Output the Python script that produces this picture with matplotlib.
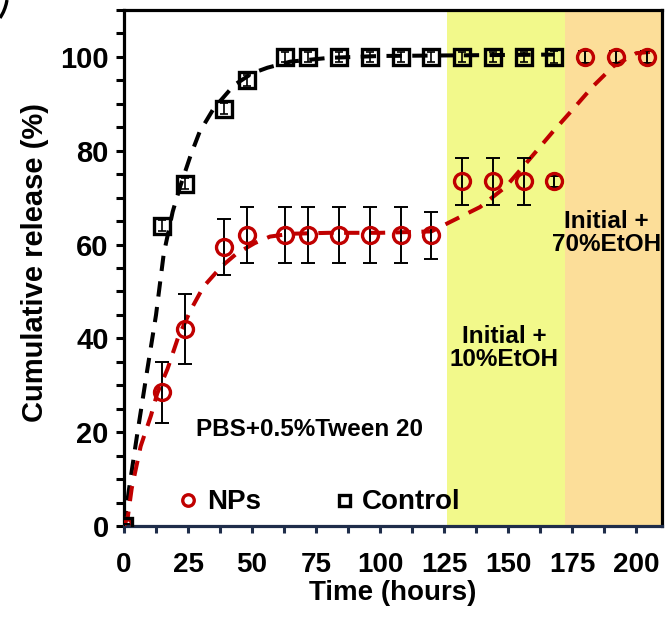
import matplotlib
matplotlib.use("Agg")
import matplotlib.pyplot as plt
from matplotlib.lines import Line2D
from matplotlib.ticker import MultipleLocator

plt.rcParams['font.family'] = ['Liberation Sans', 'DejaVu Sans']
plt.rcParams['font.weight'] = 'bold'

# Sampling times (hours)
t_control = [0, 15, 24, 39, 48, 63, 72, 84, 96, 108, 120, 132, 144, 156, 168]
control = [0, 64, 73, 89, 95, 100, 100, 100, 100, 100, 100, 100, 100, 100, 100]
control_err = [0.5, 1.2, 1.2, 1.2, 1.2, 1.0, 1.0, 1.0, 1.0, 1.0, 1.0, 1.0, 1.0, 1.0, 1.2]

t_nps = [0, 15, 24, 39, 48, 63, 72, 84, 96, 108, 120, 132, 144, 156, 168, 180, 192, 204]
nps = [0, 28.5, 42, 59.5, 62, 62, 62, 62, 62, 62, 62, 73.5, 73.5, 73.5, 73.5, 100, 100, 100]
nps_err = [0.5, 6.5, 7.5, 6, 6, 6, 6, 6, 6, 6, 5, 5, 5, 5, 1.2, 1.2, 1.2, 1.2]

# Fitted release profiles (dashed)
fit_control_t = [0, 2, 5, 9, 12.5, 15.5, 19, 22, 26, 29.5, 35, 43, 50, 56, 65, 80, 100, 168]
fit_control_y = [0, 8, 19, 33, 45, 58, 67, 72.5, 79, 84, 89, 94, 96.5, 97.7, 99, 99.8, 100.2, 100.5]

fit_nps_t = [0, 1.5, 3, 6.5, 10.5, 13, 17, 21, 26, 31, 38, 44, 51, 57, 65, 80, 100, 120,
             128, 139, 149, 158, 167, 175, 183, 191, 200, 206]
fit_nps_y = [0, 2, 8, 17, 23.5, 28.3, 33.5, 40, 46, 51, 55.3, 58.1, 60.3, 61.7, 62.3, 62.5, 62.5, 62.8,
             65, 68, 72.3, 78, 83.8, 88.7, 93.7, 98, 100.8, 101.1]

# Medium-change windows (hours)
phase_10 = (126, 172)
phase_70 = (172, 210)

red = '#C00000'
navy = '#1F2D4A'
W, H = 665, 623

fig = plt.figure(figsize=(W / 100, H / 100), dpi=100)
ax = fig.add_axes([124 / W, 97 / H, 538 / W, 516 / H])

ax.axvspan(*phase_10, color='#F2F98B', zorder=0, lw=0)
ax.axvspan(*phase_70, color='#FCDE99', zorder=0, lw=0)

dash = (0, (3.8, 2.6))
ax.plot(fit_control_t, fit_control_y, color='black', lw=2.9, linestyle=dash, zorder=3)
ax.plot(fit_nps_t, fit_nps_y, color=red, lw=2.9, linestyle=dash, zorder=3)

ax.errorbar(t_control, control, yerr=control_err, fmt='none', ecolor='black',
            elinewidth=1.2, capsize=3, capthick=1.2, zorder=4)
ax.errorbar(t_nps, nps, yerr=nps_err, fmt='none', ecolor='black',
            elinewidth=1.4, capsize=4.7, capthick=1.4, zorder=4)

h_nps, = ax.plot(t_nps, nps, linestyle='none', marker='o', markersize=11.5,
                 markerfacecolor='none', markeredgecolor=red, markeredgewidth=2.4,
                 label='NPs', zorder=5)
h_ctrl, = ax.plot(t_control, control, linestyle='none', marker='s', markersize=11,
                  markerfacecolor='none', markeredgecolor='black', markeredgewidth=2.4,
                  label='Control', zorder=5)

ax.set_xlim(0, 210)
ax.set_ylim(0, 110)
ax.xaxis.set_major_locator(MultipleLocator(25))
ax.xaxis.set_minor_locator(MultipleLocator(12.5))
ax.yaxis.set_major_locator(MultipleLocator(20))
ax.yaxis.set_minor_locator(MultipleLocator(5))

for side in ('left', 'top', 'right'):
    ax.spines[side].set_linewidth(2.3)
    ax.spines[side].set_color('black')
ax.spines['bottom'].set_linewidth(2.3)
ax.spines['bottom'].set_color(navy)

ax.tick_params(axis='y', which='both', direction='out', length=6, width=2.2,
               color='black', labelsize=21, pad=5)
ax.tick_params(axis='x', which='both', direction='out', length=5, width=2.2,
               color=navy, labelsize=20, pad=14)
for lbl in ax.get_xticklabels() + ax.get_yticklabels():
    lbl.set_fontweight('bold')

ax.set_xlabel('Time (hours)', fontsize=20, fontweight='bold')
ax.set_ylabel('Cumulative release (%)', fontsize=21, fontweight='bold')
ax.xaxis.set_label_coords(0.5, -0.105)
ax.yaxis.set_label_coords(-0.14, 0.51)

ax.text(72.5, 20.5, 'PBS+0.5%Tween 20', fontsize=17.5, fontweight='bold',
        ha='center', va='center')
ax.text(148.5, 38, 'Initial +\n10%EtOH', fontsize=17.5, fontweight='bold',
        ha='center', va='center', linespacing=1.0)
ax.text(188.3, 62.5, 'Initial +\n70%EtOH', fontsize=17.5, fontweight='bold',
        ha='center', va='center', linespacing=1.0)

leg = ax.legend(handles=[h_nps, h_ctrl], loc='center left', ncol=2,
                bbox_to_anchor=(0.1, 0.046), frameon=False, fontsize=20,
                markerscale=0.72, handlelength=0.75, handletextpad=0.3,
                columnspacing=2.6, borderaxespad=0, borderpad=0)
for txt in leg.get_texts():
    txt.set_fontweight('bold')

# Edge of the neighbouring panel's bracket
arc_x = [7, 6.2, 5, 3.4, 1.5, 0]
arc_y = [0, 4, 8, 12, 15.5, 18]
fig.add_artist(Line2D([x / W for x in arc_x], [1 - y / H for y in arc_y],
                      transform=fig.transFigure, color='black', lw=2.4,
                      solid_capstyle='butt'))

fig.savefig('out.png', dpi=100)
